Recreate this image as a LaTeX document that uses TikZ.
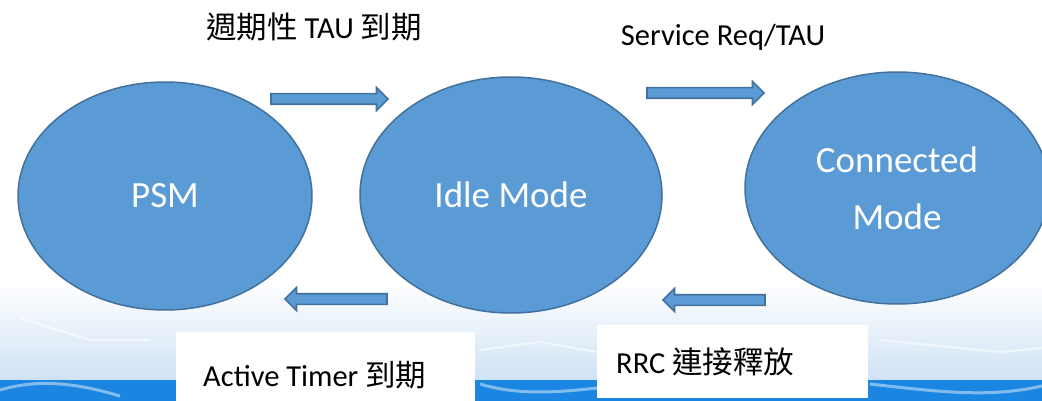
\documentclass[tikz,border=0pt]{standalone}
\usepackage{fontspec}
\setmainfont{Carlito}
\newfontfamily\cjk{Noto Sans CJK TC}
\usepackage{tikz}
\usetikzlibrary{calc,shapes.geometric}
\definecolor{lteblue}{HTML}{5B9BD5}
\definecolor{lteedge}{HTML}{41719C}
\definecolor{ltesky}{HTML}{CFE2F4}
\definecolor{lteband}{HTML}{1A86E2}
\tikzset{
  stateEll/.style={ellipse, draw=lteedge, fill=lteblue, line width=1.5pt, inner sep=0pt, align=center, text=white, font=\fontsize{37}{57}\selectfont},
  blockArrow/.style={draw=lteedge, fill=lteblue, line width=1.6pt, line join=miter,
    to path={let \p1=(\tikztostart), \p2=(\tikztotarget), \n1={(\x2-\x1)/abs(\x2-\x1)} in
      (\x1,\y1+5.3pt) -- ({\x2-(\n1)*11.5pt},\y1+5.3pt) -- ({\x2-(\n1)*11.5pt},\y1+11.5pt) -- (\x2,\y1)
      -- ({\x2-(\n1)*11.5pt},\y1-11.5pt) -- ({\x2-(\n1)*11.5pt},\y1-5.3pt) -- (\x1,\y1-5.3pt) -- cycle}},
  labelBox/.style={fill=white, inner sep=0pt, anchor=north west},
  labelText/.style={font=\fontsize{30.5}{36}\selectfont, inner sep=0pt}
}

\begin{document}
\begin{tikzpicture}[x=1pt, y=-1pt]
  \clip (0,0) rectangle (1042,401);
  \fill[white] (0,0) rectangle (1042,401);
  % banner at the bottom
  \shade[top color=white, bottom color=ltesky] (0,282) rectangle (1042,381);
  \fill[lteband] (0,380) rectangle (1042,401);
  \draw[white, opacity=.45, line width=3pt] (0,390) .. controls (40,378) and (80,384) .. (120,396);
  \draw[white, opacity=.45, line width=3pt] (870,384) .. controls (940,392) and (990,398) .. (1042,386);
  \draw[white, opacity=.45, line width=3pt] (480,384) .. controls (520,396) and (560,392) .. (597,388);
  \draw[white, opacity=.6, line width=2pt] (20,318) -- (90,340) -- (150,340);
  \draw[white, opacity=.6, line width=2pt] (480,350) -- (540,342) -- (597,352);
  \draw[white, opacity=.6, line width=2pt] (880,340) -- (1000,352) -- (1042,348);

  \node[labelBox, minimum width=299pt, minimum height=69pt] (timerBox) at (176,332) {};
  \node[labelBox, minimum width=271pt, minimum height=73pt] (rrcBox) at (597,325) {};

  \node[stateEll, minimum width=294pt, minimum height=228pt] (psm) at (165,196) {PSM};
  \node[stateEll, minimum width=302pt, minimum height=236pt] (idle) at (511,195) {Idle Mode};
  \node[stateEll, minimum width=304pt, minimum height=232pt] (conn) at (897,188) {Connected\\Mode};

  \coordinate (tauStart) at (271,99);
  \coordinate (tauEnd) at (388,99);
  \coordinate (svcStart) at (647,93);
  \coordinate (svcEnd) at (764,93);
  \coordinate (timerStart) at (387,299);
  \coordinate (timerEnd) at (285,299);
  \coordinate (rrcStart) at (765,300);
  \coordinate (rrcEnd) at (663,300);

  \draw[blockArrow] (tauStart) to (tauEnd);
  \draw[blockArrow] (svcStart) to (svcEnd);
  \draw[blockArrow] (timerStart) to (timerEnd);
  \draw[blockArrow] (rrcStart) to (rrcEnd);

  \node[labelText] (tauLabel) at (314,27) {{\cjk 週期性} TAU {\cjk 到期}};
  \node[labelText] (svcLabel) at (723,37) {Service Req/TAU};
  \node[labelText, anchor=west] (timerLabel) at (203,375) {Active Timer {\cjk 到期}};
  \node[labelText, anchor=west] (rrcLabel) at (616,362) {RRC {\cjk 連接釋放}};
\end{tikzpicture}
\end{document}
